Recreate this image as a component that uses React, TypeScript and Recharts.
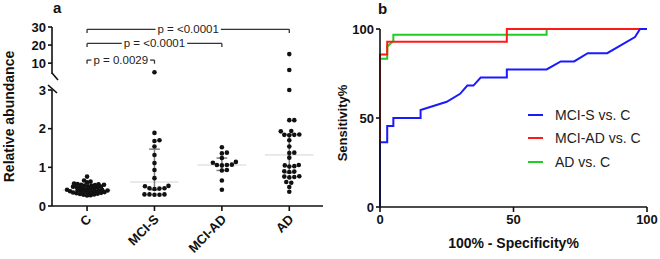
import React from 'react';
import {
  ScatterChart,
  Scatter,
  LineChart,
  Line,
  XAxis,
  YAxis,
  ReferenceLine,
  Legend,
} from 'recharts';

// panel a: relative abundance per group
const groups = ['C', 'MCI-S', 'MCI-AD', 'AD'];
const cValues = [
  0.76, 0.66, 0.63, 0.61, 0.58, 0.57, 0.56, 0.55, 0.55, 0.54, 0.53, 0.52, 0.51, 0.5, 0.5,
  0.49, 0.48, 0.47, 0.46, 0.45, 0.44, 0.43, 0.42, 0.42, 0.41, 0.4, 0.4, 0.39, 0.38, 0.38,
  0.37, 0.36, 0.36, 0.35, 0.35, 0.34, 0.33, 0.32, 0.31, 0.3, 0.29, 0.28, 0.27,
];
const mciSValues = [
  5.0, 1.89, 1.7, 1.68, 1.54, 1.32, 1.11, 0.93, 0.72, 0.52, 0.51, 0.46, 0.45, 0.46, 0.44,
  0.3, 0.29, 0.3, 0.29, 0.3,
];
const mciAdValues = [1.52, 1.38, 1.36, 1.24, 1.14, 1.12, 1.07, 1.06, 1.06, 1.05, 0.93, 0.92, 0.66, 0.42];
const adValues = [
  15, 6.2, 3.0, 2.22, 2.22, 1.94, 1.93, 1.85, 1.84, 1.84, 1.83, 1.7, 1.54, 1.38, 1.37, 1.25,
  1.06, 1.05, 1.03, 1.02, 0.9, 0.89, 0.88, 0.77, 0.76, 0.75, 0.74, 0.62, 0.6, 0.49, 0.37,
];
const groupValues = [cValues, mciSValues, mciAdValues, adValues];
const groupMedian = [0.41, 0.62, 1.06, 1.32];
const groupQ1 = [0.34, 0.42, 0.92, 0.86];
const groupQ3 = [0.5, 1.47, 1.24, 1.85];

const lowerTicks = [0, 1, 2, 3];
const upperTicks = [10, 20, 30];

const bracketFrom = [0, 0, 0];
const bracketTo = [1, 2, 3];
const bracketLevel = [11.7, 20.9, 28.7];
const bracketText = ['p = 0.0029', 'p = <0.0001', 'p = <0.0001'];

// panel b: ROC curves (100% - specificity, sensitivity)
const rocNames = ['MCI-S vs. C', 'MCI-AD vs. C', 'AD vs. C'];
const rocColors = ['#1a1aff', '#ff1a1a', '#22cc22'];
const mciSFpr = [0, 0, 2.7, 2.7, 5, 5, 15.2, 15.2, 25, 30, 32.7, 35, 37.7, 47.5, 47.5, 62.4, 67.7, 72.7, 77.8, 85.1, 95.5, 97.4, 100];
const mciSTpr = [0, 36.4, 36.4, 45.5, 45.5, 50, 50, 54.5, 59.1, 63.6, 68.2, 68.2, 72.7, 72.7, 77.3, 77.3, 81.8, 81.8, 86.4, 86.4, 95.5, 100, 100];
const mciAdFpr = [0, 0, 2.7, 2.7, 47.5, 47.5, 100];
const mciAdTpr = [0, 85.7, 85.7, 92.9, 92.9, 100, 100];
const adFpr = [0, 0, 2.7, 2.7, 5, 5, 62.4, 62.4, 100];
const adTpr = [0, 83.3, 83.3, 90, 93.3, 96.7, 96.7, 100, 100];
const rocTicks = [0, 50, 100];

const FONT = "Arial, 'Liberation Sans', sans-serif";
const X_DOMAIN: [number, number] = [-0.52, 3.5];
const PLOT_LEFT = 52;
const PLOT_RIGHT = 323;
const X_PX = (PLOT_RIGHT - PLOT_LEFT) / (X_DOMAIN[1] - X_DOMAIN[0]);
const LOWER_TOP = 90;
const LOWER_BOTTOM = 206;
const UPPER_TOP = 27;
const Y_PX = (LOWER_BOTTOM - LOWER_TOP) / 3;
const BREAK_AT = 3.5;
// the control group is packed tighter, as in the original plot
const dotGap = [3.2, 4.6, 4.6, 4.6];

// simple beeswarm: spread points sideways until they stop overlapping
function swarm(values: number[], index: number) {
  const placed: { dx: number; py: number }[] = [];
  const gap = dotGap[index];
  return values
    .filter((v) => v <= BREAK_AT)
    .sort((a, b) => a - b)
    .map((v) => {
      const py = v * Y_PX;
      let dx = 0;
      for (let k = 0; k < 400; k++) {
        const cand = (k % 2 ? 1 : -1) * Math.ceil(k / 2) * 0.5;
        if (placed.every((p) => Math.hypot(p.dx - cand, p.py - py) >= gap)) {
          dx = cand;
          break;
        }
      }
      placed.push({ dx, py });
      return { x: index + dx / X_PX, y: v };
    });
}

function textWidth(s: string, size: number) {
  const ctx = document.createElement('canvas').getContext('2d');
  if (!ctx) return s.length * size * 0.55;
  ctx.font = `${size}px 'Liberation Sans', Arial`;
  return ctx.measureText(s).width;
}

const lowerPoints = groupValues.map((vals, i) => swarm(vals, i));
const upperPoints = groupValues.flatMap((vals, i) =>
  vals.filter((v) => v > BREAK_AT).map((v) => ({ x: i, y: v })),
);

const BRACKET_FONT = 11.5;
const BRACKET_DROP = 2;
const bracketSegments = bracketFrom.flatMap((from, i) => {
  const to = bracketTo[i];
  const y = bracketLevel[i];
  const mid = (from + to) / 2;
  const half = (textWidth(bracketText[i], BRACKET_FONT) / 2 + 2) / X_PX;
  return [
    [{ x: from, y: y - BRACKET_DROP }, { x: from, y }],
    [{ x: from, y }, { x: mid - half, y }],
    [{ x: mid + half, y }, { x: to, y }],
    [{ x: to, y }, { x: to, y: y - BRACKET_DROP }],
  ];
});
const bracketLabels = bracketFrom.map((from, i) => ({
  x: (from + bracketTo[i]) / 2,
  y: bracketLevel[i],
  text: bracketText[i],
}));

const rocSeries = [
  mciSFpr.map((x, i) => ({ x, y: mciSTpr[i] })),
  mciAdFpr.map((x, i) => ({ x, y: mciAdTpr[i] })),
  adFpr.map((x, i) => ({ x, y: adTpr[i] })),
];

const tickStyle = { fontSize: 13, fontWeight: 700, fill: '#111', fontFamily: FONT };
const axisStroke = { stroke: '#111', strokeWidth: 1.6 };

const Dot = (p: any) => <circle cx={p.cx} cy={p.cy} r={2.3} fill="#111" />;

const GroupTick = (props: any) => {
  const { x, y, payload } = props;
  const ax = x + 2;
  const ay = y + 4;
  return (
    <text
      x={ax}
      y={ay}
      transform={`rotate(-45, ${ax}, ${ay})`}
      textAnchor="end"
      dy="0.35em"
      {...tickStyle}
    >
      {groups[payload.value]}
    </text>
  );
};

const BracketLabel = (p: any) => (
  <text
    x={p.cx}
    y={p.cy}
    textAnchor="middle"
    dominantBaseline="central"
    fontSize={BRACKET_FONT}
    fill="#222"
    fontFamily={FONT}
  >
    {p.payload.text}
  </text>
);

function RocLegend() {
  return (
    <div style={{ fontFamily: FONT, fontSize: 14, color: '#222' }}>
      {rocNames.map((name, i) => (
        <div key={name} style={{ display: 'flex', alignItems: 'center', height: 23.5 }}>
          <span style={{ width: 15, height: 2, background: rocColors[i], marginRight: 12 }} />
          <span>{name}</span>
        </div>
      ))}
    </div>
  );
}

export default function App() {
  return (
    <div style={{ position: 'absolute', left: 0, top: 0, width: 660, height: 259, background: '#fff' }}>
      {/* lower segment of panel a: 0 to 3 */}
      <div style={{ position: 'absolute', left: 0, top: 0 }}>
        <ScatterChart width={330} height={259} margin={{ top: LOWER_TOP, right: 330 - PLOT_RIGHT, bottom: 8, left: 0 }}>
          <XAxis
            type="number"
            dataKey="x"
            domain={X_DOMAIN}
            ticks={[0, 1, 2, 3]}
            height={45}
            tickSize={5}
            tickMargin={2}
            axisLine={axisStroke}
            tickLine={axisStroke}
            tick={<GroupTick />}
            interval={0}
          />
          <YAxis
            type="number"
            dataKey="y"
            domain={[0, 3]}
            ticks={lowerTicks}
            interval={0}
            width={PLOT_LEFT}
            tickSize={4}
            tickMargin={2}
            axisLine={axisStroke}
            tickLine={axisStroke}
            tick={tickStyle}
            label={{
              content: (lp: any) => {
                const vb = lp.viewBox || { x: 0, y: LOWER_TOP, height: LOWER_BOTTOM - LOWER_TOP };
                const cx = 9;
                const cy = (UPPER_TOP + vb.y + vb.height) / 2;
                return (
                  <text
                    x={cx}
                    y={cy}
                    transform={`rotate(-90, ${cx}, ${cy})`}
                    textAnchor="middle"
                    dominantBaseline="central"
                    fontSize={14}
                    fontWeight={700}
                    fill="#111"
                    fontFamily={FONT}
                  >
                    Relative abundance
                  </text>
                );
              },
            }}
          />
          {groups.map((g, i) => (
            <ReferenceLine
              key={`med-${g}`}
              segment={[{ x: i - 0.36, y: groupMedian[i] }, { x: i + 0.36, y: groupMedian[i] }]}
              stroke="#d4d4d4"
              strokeWidth={1}
            />
          ))}
          {groups.map((g, i) => (
            <ReferenceLine
              key={`iqr-${g}`}
              segment={[{ x: i, y: groupQ1[i] }, { x: i, y: groupQ3[i] }]}
              stroke="#808080"
              strokeWidth={1.5}
            />
          ))}
          {groups.flatMap((g, i) =>
            [groupQ1[i], groupQ3[i]].map((q, j) => (
              <ReferenceLine
                key={`cap-${g}-${j}`}
                segment={[{ x: i - 0.08, y: q }, { x: i + 0.08, y: q }]}
                stroke="#808080"
                strokeWidth={1.5}
              />
            )),
          )}
          {lowerPoints.map((pts, i) => (
            <Scatter key={groups[i]} data={pts} shape={Dot} isAnimationActive={false} />
          ))}
        </ScatterChart>
      </div>

      {/* upper segment of panel a: 4 to 30, with significance brackets */}
      <div style={{ position: 'absolute', left: 0, top: 0 }}>
        <ScatterChart width={330} height={80} margin={{ top: UPPER_TOP, right: 330 - PLOT_RIGHT, bottom: 6, left: 0 }}>
          <XAxis type="number" dataKey="x" domain={X_DOMAIN} hide />
          <YAxis
            type="number"
            dataKey="y"
            domain={[4, 30]}
            ticks={upperTicks}
            interval={0}
            width={PLOT_LEFT}
            tickSize={4}
            tickMargin={2}
            axisLine={axisStroke}
            tickLine={axisStroke}
            tick={tickStyle}
          />
          {bracketSegments.map((seg, i) => (
            <ReferenceLine key={`br-${i}`} segment={seg} stroke="#333" strokeWidth={1.3} ifOverflow="visible" />
          ))}
          <Scatter data={upperPoints} shape={Dot} isAnimationActive={false} />
          <Scatter data={bracketLabels} shape={BracketLabel} isAnimationActive={false} />
        </ScatterChart>
      </div>

      {/* panel b: ROC curves */}
      <div style={{ position: 'absolute', left: 330, top: 0 }}>
        <LineChart width={330} height={259} margin={{ top: 29, right: 13, bottom: 8, left: 0 }}>
          <XAxis
            type="number"
            dataKey="x"
            domain={[0, 100]}
            ticks={rocTicks}
            interval={0}
            height={44}
            tickSize={5}
            tickMargin={3}
            axisLine={axisStroke}
            tickLine={axisStroke}
            tick={tickStyle}
            label={{
              content: (lp: any) => {
                const vb = lp.viewBox || { x: 50, width: 267 };
                return (
                  <text
                    x={vb.x + vb.width / 2}
                    y={243}
                    textAnchor="middle"
                    dominantBaseline="central"
                    fontSize={14}
                    fontWeight={700}
                    fill="#111"
                    fontFamily={FONT}
                  >
                    100% - Specificity%
                  </text>
                );
              },
            }}
          />
          <YAxis
            type="number"
            dataKey="y"
            domain={[0, 100]}
            ticks={rocTicks}
            interval={0}
            width={50}
            tickSize={4}
            tickMargin={2}
            axisLine={axisStroke}
            tickLine={axisStroke}
            tick={tickStyle}
            label={{
              content: () => (
                <text
                  x={12}
                  y={123}
                  transform="rotate(-90, 12, 123)"
                  textAnchor="middle"
                  dominantBaseline="central"
                  fontSize={13}
                  fontWeight={700}
                  fill="#111"
                  fontFamily={FONT}
                >
                  Sensitivity%
                </text>
              ),
            }}
          />
          {[2, 1, 0].map((i) => (
            <Line
              key={rocNames[i]}
              name={rocNames[i]}
              data={rocSeries[i]}
              dataKey="y"
              type="linear"
              stroke={rocColors[i]}
              strokeWidth={2}
              dot={false}
              activeDot={false}
              isAnimationActive={false}
            />
          ))}
          <Legend
            layout="horizontal"
            verticalAlign="middle"
            align="center"
            wrapperStyle={{ left: 198, top: 103, width: 130 }}
            content={() => <RocLegend />}
          />
        </LineChart>
      </div>

      {/* axis break marks and panel letters */}
      <svg width={660} height={259} style={{ position: 'absolute', left: 0, top: 0, pointerEvents: 'none' }}>
        <line x1={52} y1={73} x2={58} y2={80} stroke="#111" strokeWidth={1.6} />
        <line x1={48} y1={85} x2={57} y2={93} stroke="#111" strokeWidth={1.6} />
        <text x={53} y={13} fontSize={15} fontWeight={700} fill="#111" fontFamily={FONT}>a</text>
        <text x={378} y={13.5} fontSize={15} fontWeight={700} fill="#111" fontFamily={FONT}>b</text>
      </svg>
    </div>
  );
}
